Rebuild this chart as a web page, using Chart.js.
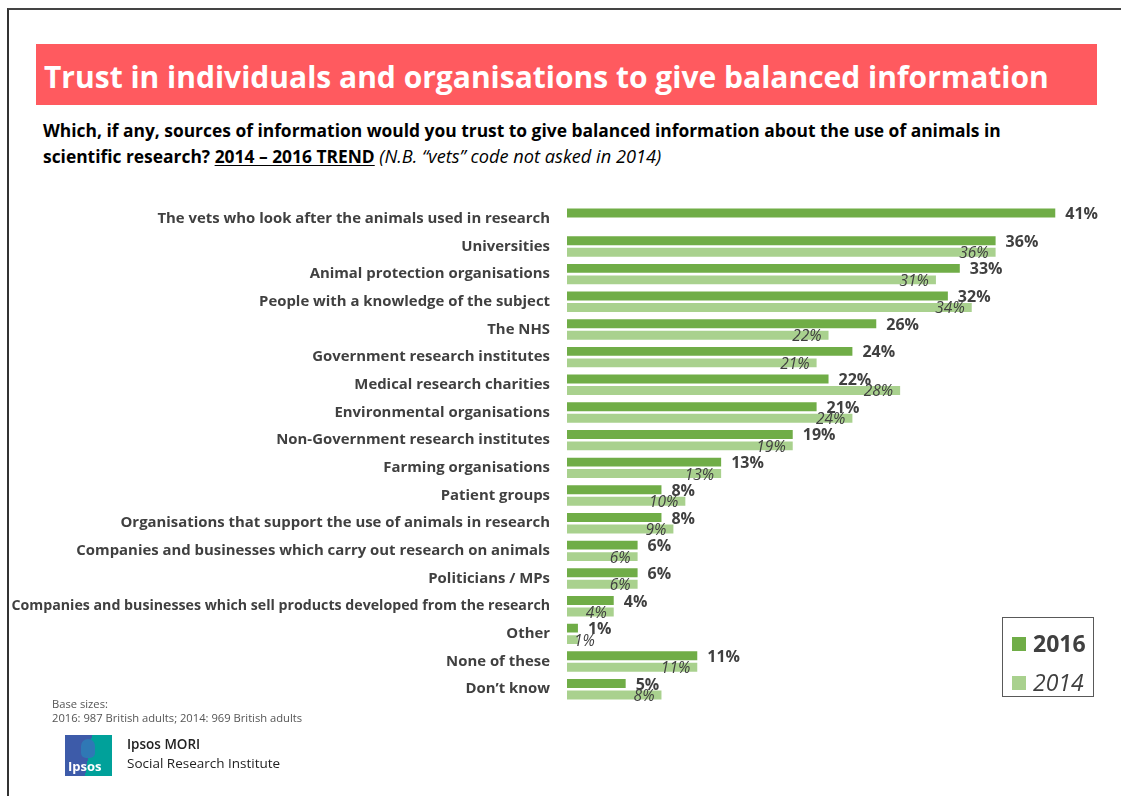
<!DOCTYPE html>
<html>
<head>
<meta charset="utf-8">
<script src="https://cdn.jsdelivr.net/npm/chart.js@4"></script>
<style>
  html, body { margin: 0; padding: 0; background: #fff; }
  body { width: 1121px; height: 796px; position: relative; overflow: hidden; font-family: "Open Sans", sans-serif; }
  .frame { position: absolute; left: 7px; top: 8px; right: -10px; bottom: -10px; border-left: 2px solid #333; border-top: 2px solid #444; }
  .banner { position: absolute; left: 36px; top: 44px; width: 1061px; height: 61px; background: #ff5a5f; }
  .banner span { position: absolute; left: 8px; top: 14px; color: #fff; font-weight: 700; font-size: 30px; line-height: 38px; white-space: nowrap; }
  .question { position: absolute; left: 43px; top: 117px; font-size: 17.4px; font-weight: 700; line-height: 26px; color: #000; white-space: nowrap; }
  .question u { text-underline-offset: 2px; }
  .question i { font-weight: 400; font-size: 18.2px; }
  #wrap { position: absolute; left: 0; top: 179px; width: 1121px; height: 550px; }
  .legend { position: absolute; left: 1002px; top: 617px; width: 90px; height: 78px; border: 1px solid #595959; background: #fff; }
  .legend div { position: absolute; left: 9px; font-size: 23px; color: #404040; line-height: 26px; white-space: nowrap; }
  .legend b, .legend em { display: inline-block; width: 14px; height: 14px; margin-right: 7px; vertical-align: 1px; }
  .base { position: absolute; left: 52px; top: 697px; font-size: 11.2px; line-height: 14px; color: #555; }
  .logo { position: absolute; left: 65px; top: 735px; width: 47px; height: 41px; background: linear-gradient(100deg, #3d5ba9 0 50%, #00a19a 50% 100%); overflow: hidden; }
  .logo .head { position: absolute; left: 16px; top: 4px; width: 14px; height: 19px; border-radius: 7px 7px 5px 5px; background: #2f78b5; }
  .logo span { position: absolute; left: 3px; bottom: 1px; color: #fff; font-weight: 700; font-size: 13px; }
  .brand { position: absolute; left: 127px; top: 735px; font-size: 13.5px; line-height: 19px; color: #222; }
  .brand b { font-weight: 600; }
</style>
</head>
<body>
<div class="frame"></div>
<div class="banner"><span>Trust in individuals and organisations to give balanced information</span></div>
<div class="question">Which, if any, sources of information would you trust to give balanced information about the use of animals in<br>scientific research? <u>2014 – 2016 TREND</u> <i>(N.B. “vets” code not asked in 2014)</i></div>
<div id="wrap"><canvas id="chart" width="1121" height="550"></canvas></div>
<div class="legend">
  <div style="top:12px;font-weight:700"><b style="background:#70ad47"></b>2016</div>
  <div style="top:51px;font-style:italic"><em style="background:#a9d18e"></em>2014</div>
</div>
<div class="base">Base sizes:<br>2016: 987 British adults; 2014: 969 British adults</div>
<div class="logo"><div class="head"></div><span>Ipsos</span></div>
<div class="brand"><b>Ipsos MORI</b><br>Social Research Institute</div>
<script>
const categories = [
  'The vets who look after the animals used in research',
  'Universities',
  'Animal protection organisations',
  'People with a knowledge of the subject',
  'The NHS',
  'Government research institutes',
  'Medical research charities',
  'Environmental organisations',
  'Non-Government research institutes',
  'Farming organisations',
  'Patient groups',
  'Organisations that support the use of animals in research',
  'Companies and businesses which carry out research on animals',
  'Politicians / MPs',
  'Companies and businesses which sell products developed from the research',
  'Other',
  'None of these',
  'Don\u2019t know'
];
const values2016 = [41, 36, 33, 32, 26, 24, 22, 21, 19, 13, 8, 8, 6, 6, 4, 1, 11, 5];
const values2014 = [null, 36, 31, 34, 22, 21, 28, 24, 19, 13, 10, 9, 6, 6, 4, 1, 11, 8];

const green = '#70ad47';
const lightGreen = '#a9d18e';
const textGrey = '#404040';

// percent labels: 2016 after the bar end, 2014 tucked just inside the end
const valueLabels = {
  id: 'valueLabels',
  afterDatasetsDraw(chart) {
    const ctx = chart.ctx;
    const base = chart.scales.x.getPixelForValue(0);
    ctx.save();
    ctx.fillStyle = textGrey;
    ctx.textBaseline = 'middle';
    ctx.textAlign = 'left';
    chart.data.datasets.forEach((ds, i) => {
      const meta = chart.getDatasetMeta(i);
      meta.data.forEach((bar, j) => {
        const v = ds.data[j];
        if (v === null) return;
        const txt = v + '%';
        if (i === 0) {
          ctx.font = 'bold 16px "Open Sans"';
          ctx.fillText(txt, bar.x + 9, bar.y + 1.5);
        } else {
          ctx.font = 'italic 15.5px "Open Sans"';
          const w = ctx.measureText(txt).width;
          ctx.fillText(txt, Math.max(bar.x - 8 - w, base + 7), bar.y + 1.5);
        }
      });
    });
    ctx.restore();
  }
};

new Chart(document.getElementById('chart'), {
  type: 'bar',
  data: {
    labels: categories,
    datasets: [
      { label: '2016', data: values2016, backgroundColor: green, borderColor: 'rgba(255,255,255,0.6)', borderWidth: 1 },
      { label: '2014', data: values2014, backgroundColor: lightGreen, borderColor: 'rgba(255,255,255,0.6)', borderWidth: 1 }
    ]
  },
  options: {
    indexAxis: 'y',
    responsive: false,
    animation: false,
    categoryPercentage: 0.83,
    barPercentage: 0.95,
    layout: { padding: { top: 0, bottom: 0, right: 17, left: 0 } },
    plugins: {
      legend: { display: false },
      tooltip: { enabled: false }
    },
    scales: {
      x: { display: false, min: 0, max: 45 },
      y: {
        grid: { display: false, drawTicks: false },
        border: { display: false },
        ticks: {
          color: textGrey,
          padding: 17,
          autoSkip: false,
          // the one very long label is set a touch smaller so it fits the frame
          font: (c) => ({ family: 'Open Sans', weight: 'bold', size: c.index === 14 ? 14.2 : 14.9 })
        },
        afterFit(scale) { scale.width = 567; }
      }
    }
  },
  plugins: [valueLabels]
});
</script>
</body>
</html>
